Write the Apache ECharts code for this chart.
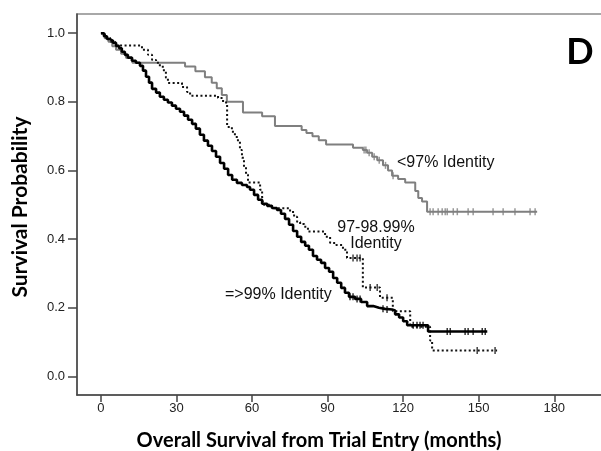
<!DOCTYPE html>
<html>
<head>
<meta charset="utf-8">
<script src="https://cdn.jsdelivr.net/npm/echarts@6/dist/echarts.min.js"></script>
<style>
  html, body { margin: 0; padding: 0; background: #fff; }
  #chart { width: 601px; height: 451px; }
</style>
</head>
<body>
<div id="chart"></div>
<script>
// tick values
var xTicks = [0, 30, 60, 90, 120, 150, 180];
var yTicks = [0, 0.2, 0.4, 0.6, 0.8, 1.0];

// <97% Identity (grey)
var lowTimes = [0, 1.5, 3, 4.5, 6, 8, 10, 12.5, 33.4, 37.5, 41.3, 44, 46, 48, 50, 56.4, 64, 69.1,
  79.7, 81.6, 84, 86.5, 89.4, 100.1, 104, 105.7, 107.7, 109.7, 112, 114, 115.6, 118, 120.8,
  124.8, 126, 127.5, 129.5, 173.2];
var lowSurv = [1.0, 0.985, 0.975, 0.962, 0.952, 0.94, 0.928, 0.914, 0.903, 0.889, 0.872, 0.856, 0.84, 0.82, 0.80, 0.769, 0.758, 0.73,
  0.718, 0.709, 0.70, 0.688, 0.676, 0.666, 0.66, 0.652, 0.64, 0.63, 0.615, 0.60, 0.585, 0.575, 0.565,
  0.54, 0.52, 0.51, 0.48, 0.48];
var lowCensor = [104.5, 105.2, 106.5, 108.5, 110.5, 113, 116, 130.7, 131.9, 133.9, 135.5, 136.7, 137.5,
  139.9, 141.5, 145.8, 147.8, 155.7, 159.7, 164.4, 170.4, 172.4];

// 97-98.99% Identity (dotted)
var midTimes = [0, 1.6, 3.6, 5.6, 16.3, 18.7, 20.3, 21.9, 23.4, 25.0, 25.8, 26.6, 32.2, 34.2, 35.4, 46.5, 48.5,
  50.1, 52.0, 53.2, 54.4, 55.2, 56.0, 56.8, 57.6, 58.4, 63.2, 64.0, 64.4, 67.9, 75.1, 76.7, 77.9, 79.1, 80.7,
  82.2, 89.0, 91.0, 93.4, 96.1, 97.7, 104.0, 110.8, 115.9, 122.8, 130.7, 131.5, 157.3];
var midSurv = [1.0, 0.987, 0.975, 0.964, 0.952, 0.937, 0.922, 0.914, 0.902, 0.888, 0.870, 0.855, 0.843, 0.829, 0.818, 0.811, 0.798,
  0.727, 0.713, 0.698, 0.684, 0.660, 0.637, 0.611, 0.588, 0.565, 0.544, 0.523, 0.50, 0.49, 0.479, 0.465, 0.45, 0.444, 0.436,
  0.422, 0.407, 0.389, 0.383, 0.369, 0.345, 0.259, 0.229, 0.19, 0.145, 0.105, 0.076, 0.076];
var midCensor = [100.1, 101.7, 102.9, 106.9, 109.7, 113.6, 149.4, 156.5];

// =>99% Identity (solid black)
var highTimes = [0, 1.2, 2.4, 3.6, 4.8, 6.0, 7.2, 8.3, 9.5, 10.7, 12.3, 13.9, 15.5, 16.7, 17.9, 19.1, 20.3, 21.9,
  23.4, 25.0, 26.6, 28.2, 29.8, 31.4, 33.0, 34.6, 36.2, 37.7, 39.3, 40.9, 42.5, 44.1, 45.7, 47.3, 48.9, 50.5,
  52.1, 54.0, 56.0, 58.0, 59.2, 60.8, 62.4, 64.0, 66.0, 67.9, 69.9, 71.5, 73.1, 74.7, 76.3, 77.9, 79.5, 81.1,
  82.6, 84.2, 85.8, 87.4, 89.0, 90.6, 92.2, 93.8, 95.4, 96.9, 98.5, 100.9, 103.3, 105.7, 108.1, 110.4, 112.8,
  115.6, 116.8, 118.4, 120.0, 121.6, 129.9, 153.4];
var highSurv = [1.0, 0.991, 0.983, 0.978, 0.972, 0.963, 0.956, 0.946, 0.937, 0.929, 0.92, 0.914, 0.905, 0.891, 0.873, 0.856, 0.838, 0.827,
  0.815, 0.806, 0.798, 0.789, 0.78, 0.771, 0.76, 0.748, 0.736, 0.722, 0.704, 0.687, 0.672, 0.657, 0.64, 0.622, 0.605, 0.587,
  0.573, 0.564, 0.558, 0.552, 0.544, 0.529, 0.515, 0.503, 0.497, 0.491, 0.485, 0.474, 0.459, 0.442, 0.424, 0.407, 0.392, 0.381,
  0.369, 0.351, 0.34, 0.331, 0.316, 0.305, 0.287, 0.273, 0.258, 0.244, 0.232, 0.226, 0.217, 0.205, 0.20, 0.197, 0.195,
  0.192, 0.181, 0.172, 0.161, 0.149, 0.131, 0.131];
var highCensor = [98.9, 100.1, 101.7, 102.9, 112, 113.6, 124, 125.5, 126.7, 127.9, 137.5, 138.7, 144.6, 145.8,
  147.8, 151.4, 152.6];

function pairs(ts, ss) {
  return ts.map(function (t, i) { return [t, ss[i]]; });
}
// survival level of a step curve at time t
function levelAt(ts, ss, t) {
  var v = ss[0];
  for (var i = 0; i < ts.length; i++) {
    if (ts[i] <= t) v = ss[i];
  }
  return v;
}
function censorPts(ts, ss, cs) {
  return cs.map(function (c) { return [c, levelAt(ts, ss, c)]; });
}

var grey = '#7f7f7f';
var textFont = 'Liberation Sans, Arial, sans-serif';

var chart = echarts.init(document.getElementById('chart'));
chart.setOption({
  animation: false,
  backgroundColor: '#fff',
  grid: {
    left: 77, top: 14, width: 544, height: 381,
    containLabel: false, outerBoundsMode: 'none',
    show: true, borderColor: '#8c8c8c', borderWidth: 1.5
  },
  xAxis: {
    type: 'value', min: -9.5, max: 206.5,
    axisLine: { show: true, onZero: false, lineStyle: { color: '#444', width: 1.5 } },
    axisTick: { show: true, customValues: xTicks, length: 7, lineStyle: { color: '#444', width: 1.5 } },
    axisLabel: { customValues: xTicks, margin: 7, color: '#222', fontSize: 13, fontFamily: textFont },
    splitLine: { show: false }
  },
  yAxis: {
    type: 'value', min: -0.054, max: 1.056,
    axisLine: { show: true, onZero: false, lineStyle: { color: '#444', width: 1.5 } },
    axisTick: { show: true, customValues: yTicks, length: 9, lineStyle: { color: '#444', width: 1.5 } },
    axisLabel: {
      customValues: yTicks, margin: 12, color: '#222', fontSize: 13, fontFamily: textFont,
      formatter: function (v) { return v.toFixed(1); }
    },
    splitLine: { show: false }
  },
  series: [
    {
      type: 'line', step: 'end', symbol: 'none', data: pairs(lowTimes, lowSurv),
      lineStyle: { color: grey, width: 2 }, z: 2
    },
    {
      type: 'scatter', symbol: 'rect', symbolSize: [1.5, 7], data: censorPts(lowTimes, lowSurv, lowCensor),
      itemStyle: { color: grey }, z: 2
    },
    {
      type: 'line', step: 'end', symbol: 'none', data: pairs(midTimes, midSurv),
      lineStyle: { color: '#111', width: 2, type: [2, 2.5] }, z: 3
    },
    {
      type: 'scatter', symbol: 'rect', symbolSize: [1.5, 7], data: censorPts(midTimes, midSurv, midCensor),
      itemStyle: { color: '#111' }, z: 3
    },
    {
      type: 'line', step: 'end', symbol: 'none', data: pairs(highTimes, highSurv),
      lineStyle: { color: '#000', width: 2.6 }, z: 4
    },
    {
      type: 'scatter', symbol: 'rect', symbolSize: [1.5, 7], data: censorPts(highTimes, highSurv, highCensor),
      itemStyle: { color: '#000' }, z: 4
    }
  ],
  graphic: [
    {
      type: 'text', x: 319, y: 441,
      style: { text: 'Overall Survival from Trial Entry (months)', font: 'bold 20px Lato', fill: '#000',
        textAlign: 'center', textVerticalAlign: 'middle' }
    },
    {
      type: 'text', x: 20, y: 207, rotation: Math.PI / 2,
      style: { text: 'Survival Probability', font: 'bold 21px Lato', fill: '#000',
        textAlign: 'center', textVerticalAlign: 'middle' }
    },
    {
      type: 'text', x: 580, y: 52,
      style: { text: 'D', font: 'bold 36px Lato', fill: '#000', textAlign: 'center', textVerticalAlign: 'middle' }
    },
    {
      type: 'text', x: 397, y: 163,
      style: { text: '<97% Identity', font: '16px Liberation Sans', fill: '#111', textAlign: 'left', textVerticalAlign: 'middle' }
    },
    {
      type: 'text', x: 376, y: 236,
      style: { text: '97-98.99%\nIdentity', font: '16px Liberation Sans', lineHeight: 16, fill: '#111',
        textAlign: 'center', textVerticalAlign: 'middle' }
    },
    {
      type: 'text', x: 225, y: 294.5,
      style: { text: '=>99% Identity', font: '16px Liberation Sans', fill: '#111', textAlign: 'left', textVerticalAlign: 'middle' }
    }
  ]
});
</script>
</body>
</html>
